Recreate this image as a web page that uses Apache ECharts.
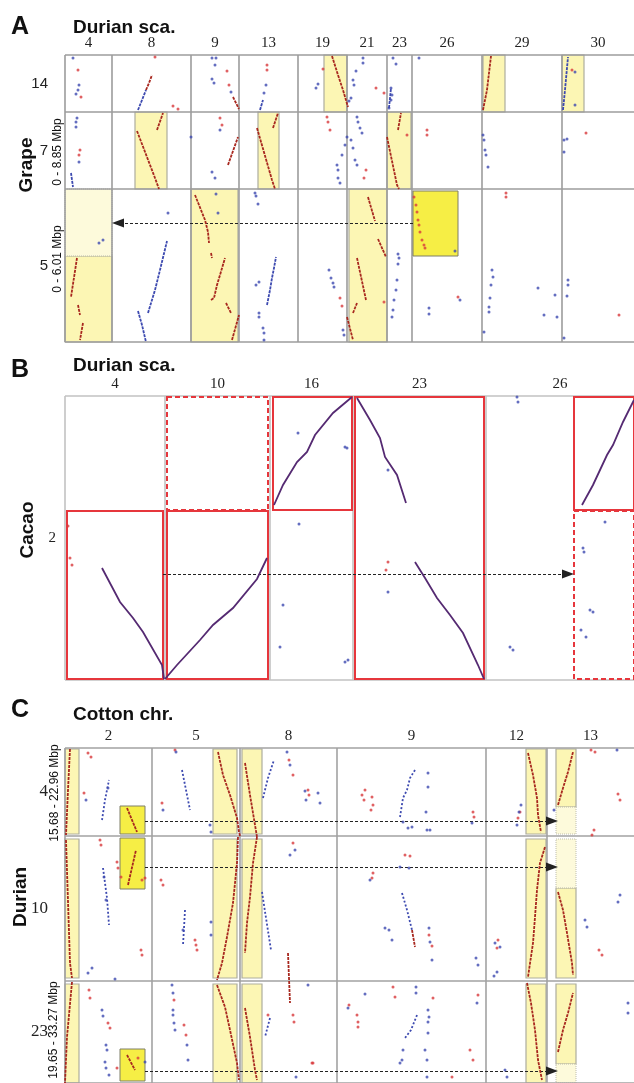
<!DOCTYPE html>
<html>
<head>
<meta charset="utf-8">
<script src="https://cdn.jsdelivr.net/npm/echarts@6/dist/echarts.min.js"></script>
<style>
html, body { margin: 0; padding: 0; background: #fff; }
#chart { width: 634px; height: 1083px; }
</style>
</head>
<body>
<div id="chart"></div>
<script>
// ---- A: durian scaffolds x grape chromosomes ----
const aCols = ['4', '8', '9', '13', '19', '21', '23', '26', '29', '30'];
const aColSize = [47, 79, 48, 59, 49, 40, 25, 70, 80, 72];
const aRows = ['14', '7', '5'];
const aRowSize = [57, 77, 153];
// boxes: [x1, y1, x2, y2]
const aPale = [[70, 57, 102, 134], [193, 57, 214, 134], [259, 0, 282, 57], [322, 57, 346, 134], [418, 0, 440, 57],
  [497, 0, 519, 57], [0, 201, 47, 287], [126, 134, 173, 287], [284, 134, 322, 287]];
const aLight = [[0, 134, 47, 201]];
const aBright = [[348, 136, 393, 201]];
const aArrows = [[348, 168, 53, 168]];
const aRedStreaks = [
  [[81, 35], [84, 28], [87, 20]], [[168, 42], [171, 48], [174, 54]], [[267, 1], [273, 20], [278, 35], [283, 52]],
  [[418, 55], [422, 35], [426, 1]], [[72, 76], [90, 123], [94, 134]], [[92, 75], [98, 58]], [[163, 110], [173, 82]],
  [[192, 73], [207, 125], [210, 134]], [[208, 73], [213, 58]], [[322, 82], [332, 130], [334, 134]], [[333, 75], [336, 58]],
  [[12, 203], [6, 242]], [[13, 250], [15, 260]], [[18, 268], [15, 285]], [[130, 140], [140, 165], [143, 177], [144, 188]],
  [[146, 198], [147, 203]], [[146, 245], [149, 243], [152, 230], [155, 220], [160, 203]], [[161, 248], [166, 258]],
  [[167, 285], [174, 260]], [[282, 262], [288, 285]], [[303, 142], [310, 166]], [[313, 184], [321, 202]],
  [[292, 203], [301, 245]], [[288, 258], [292, 248]]
];
const aBlueStreaks = [
  [[73, 55], [77, 45], [81, 35]], [[195, 55], [198, 45]], [[498, 55], [500, 35], [503, 2]], [[6, 118], [8, 132]],
  [[73, 256], [77, 270], [81, 287]], [[83, 258], [90, 235], [95, 215], [102, 186]],
  [[202, 250], [205, 235], [207, 223], [209, 213], [211, 202]], [[324, 53], [326, 33]]
];
const aRed = [[13, 15], [16, 42], [108, 51], [113, 54], [90, 2], [162, 16], [164, 30], [202, 10], [202, 15], [258, 14],
  [311, 33], [319, 38], [507, 15], [15, 95], [14, 100], [155, 63], [157, 70], [262, 62], [263, 67], [265, 75], [301, 115],
  [299, 123], [362, 75], [362, 80], [342, 80], [521, 78], [275, 243], [277, 251], [441, 138], [441, 142], [554, 260],
  [319, 247], [393, 242], [349, 142], [351, 150], [352, 157], [353, 165], [354, 170], [355, 177], [357, 185], [359, 190], [360, 193]];
const aBlue = [[8, 3], [14, 30], [13, 35], [11, 39], [147, 3], [151, 3], [150, 10], [147, 24], [149, 28], [166, 37], [201, 30],
  [199, 38], [251, 33], [253, 29], [298, 3], [298, 8], [291, 16], [288, 25], [289, 30], [286, 43], [284, 46], [328, 3], [331, 9],
  [326, 33], [327, 40], [326, 45], [324, 53], [354, 3], [510, 17], [510, 50], [12, 63], [11, 67], [11, 72], [14, 107], [147, 117],
  [150, 123], [126, 82], [155, 75], [282, 82], [280, 90], [277, 100], [273, 115], [272, 110], [273, 123], [275, 128], [292, 62],
  [293, 67], [295, 73], [297, 78], [286, 85], [288, 93], [290, 105], [292, 110], [418, 80], [419, 85], [420, 95], [421, 100],
  [423, 112], [499, 85], [499, 97], [502, 84], [34, 188], [38, 185], [103, 158], [153, 158], [151, 139], [190, 138], [191, 141],
  [193, 149], [191, 230], [194, 227], [194, 258], [194, 262], [198, 273], [199, 278], [199, 285], [264, 215], [266, 223],
  [268, 228], [269, 232], [278, 275], [279, 280], [333, 199], [334, 203], [333, 209], [332, 225], [331, 235], [329, 245],
  [328, 255], [327, 262], [364, 253], [364, 259], [395, 245], [390, 196], [427, 215], [428, 222], [426, 230], [425, 243],
  [424, 252], [424, 257], [419, 277], [473, 233], [490, 240], [492, 262], [479, 260], [503, 225], [503, 230], [502, 241], [499, 283]];

// ---- B: durian scaffolds x cacao chromosome 2 ----
const bCols = ['4', '10', '16', '23', '26'];
const bColSize = [100, 105, 83, 133, 148];
const bRows = ['2'];
const bRowSize = [284];
const bSolid = [[2, 115, 98, 283], [102, 115, 203, 283], [208, 1, 287, 114], [290, 1, 419, 283], [509, 1, 571, 114]];
const bDashed = [[102, 1, 203, 114], [509, 115, 571, 283]];
const bArrows = [[98, 178, 503, 178]];
const bStreaks = [
  [[37, 172], [55, 206], [68, 222], [78, 236], [97, 269], [99, 283]],
  [[100, 283], [112, 269], [135, 244], [148, 229], [168, 212], [192, 183], [202, 162]],
  [[209, 109], [218, 89], [232, 66], [242, 56], [250, 39], [268, 17], [287, 1]],
  [[292, 2], [305, 24], [315, 42], [320, 61], [332, 79], [341, 107]],
  [[350, 166], [360, 182], [372, 202], [385, 219], [398, 237], [413, 269], [419, 283]],
  [[517, 109], [528, 89], [542, 59], [548, 49], [558, 26], [569, 4]]
];
const bRed = [[3, 130], [5, 162], [7, 169], [323, 166], [321, 174]];
const bBlue = [[233, 37], [234, 128], [218, 209], [215, 251], [280, 51], [282, 52], [323, 74], [323, 196], [452, 1], [453, 6],
  [445, 251], [448, 254], [540, 126], [518, 152], [519, 156], [525, 214], [528, 216], [516, 234], [521, 241], [280, 266], [283, 264]];

// ---- C: cotton chromosomes x durian chromosomes ----
const cCols = ['2', '5', '8', '9', '12', '13'];
const cColSize = [87, 88, 97, 149, 61, 87];
const cRows = ['4', '10', '23'];
const cRowSize = [88, 145, 102];
const cPale = [[0, 1, 14, 86], [0, 91, 14, 230], [0, 236, 14, 335], [148, 1, 172, 86], [148, 91, 172, 230], [148, 236, 172, 335],
  [177, 1, 197, 86], [177, 91, 197, 230], [177, 236, 197, 335], [461, 1, 481, 86], [461, 91, 481, 230], [461, 236, 481, 335],
  [491, 1, 511, 59], [491, 140, 511, 230], [491, 236, 511, 316]];
const cLight = [[491, 59, 511, 86], [491, 91, 511, 140], [491, 316, 511, 335]];
const cBright = [[55, 58, 80, 86], [55, 90, 80, 141], [55, 301, 80, 333]];
const cArrows = [[80, 73, 487, 73], [80, 119, 487, 119], [80, 323, 487, 323]];
const cRedStreaks = [
  [[5, 1], [3, 42], [1, 87]], [[1, 92], [5, 215], [7, 230]], [[7, 234], [2, 289], [0, 335]],
  [[62, 60], [72, 84]], [[63, 137], [71, 102]], [[62, 307], [70, 322]],
  [[153, 4], [158, 27], [165, 47], [172, 70], [174, 84], [175, 88]],
  [[173, 89], [172, 115], [168, 155], [162, 189], [157, 215], [152, 232]],
  [[152, 237], [160, 259], [165, 282], [172, 315], [174, 332]],
  [[180, 15], [185, 47], [190, 77], [192, 89]], [[192, 89], [188, 115], [185, 149], [182, 175], [180, 205]],
  [[180, 260], [185, 289], [190, 322], [192, 332]],
  [[463, 5], [468, 27], [472, 50], [473, 67], [476, 84]], [[480, 99], [475, 115], [472, 142], [470, 169], [468, 195], [463, 229]],
  [[462, 235], [466, 255], [470, 282], [473, 312], [477, 332]],
  [[493, 57], [498, 40], [503, 24], [508, 4]], [[493, 144], [498, 162], [502, 185], [507, 215], [508, 227]],
  [[493, 304], [498, 282], [503, 265], [508, 245]], [[223, 205], [224, 230], [225, 255]], [[347, 182], [350, 199]]
];
const cBlueStreaks = [
  [[37, 72], [40, 52], [44, 32]], [[117, 22], [121, 42], [125, 62]], [[198, 50], [203, 30], [209, 12]],
  [[197, 144], [201, 170], [206, 202]], [[335, 69], [338, 50], [342, 42], [345, 30], [350, 22]],
  [[337, 145], [342, 162], [347, 182]], [[352, 267], [346, 282], [340, 290]], [[205, 270], [200, 289]],
  [[38, 120], [42, 150], [44, 177]], [[120, 162], [119, 180], [118, 197]]
];
const cRed = [[23, 5], [26, 9], [19, 45], [35, 92], [36, 97], [52, 114], [53, 120], [56, 129], [77, 132], [80, 130], [76, 202],
  [77, 207], [24, 242], [25, 250], [43, 275], [45, 280], [52, 320], [73, 310], [110, 2], [97, 55], [96, 132], [98, 137], [130, 192],
  [131, 197], [132, 202], [109, 252], [119, 277], [121, 287], [224, 12], [228, 27], [243, 42], [244, 47], [228, 95], [228, 267],
  [229, 274], [203, 267], [247, 315], [300, 42], [297, 47], [299, 52], [307, 49], [308, 57], [306, 62], [408, 64], [409, 69],
  [340, 107], [345, 108], [307, 130], [308, 125], [364, 187], [367, 198], [432, 200], [284, 257], [292, 267], [293, 274],
  [293, 279], [248, 315], [368, 250], [413, 247], [405, 302], [408, 312], [387, 329], [526, 2], [530, 4], [553, 46], [555, 52],
  [527, 87], [529, 82], [534, 202], [537, 207], [328, 239], [330, 249], [455, 64], [453, 70], [433, 192]];
const cBlue = [[21, 52], [43, 40], [39, 129], [41, 152], [27, 220], [23, 225], [50, 231], [37, 262], [38, 268], [41, 297], [42, 302],
  [40, 314], [41, 320], [44, 327], [80, 314], [111, 4], [98, 62], [145, 77], [146, 84], [146, 174], [146, 187], [118, 182], [107, 237],
  [108, 245], [108, 262], [108, 267], [109, 275], [110, 282], [122, 297], [123, 312], [222, 4], [225, 17], [241, 52], [230, 102],
  [225, 107], [243, 237], [231, 329], [240, 43], [253, 45], [255, 55], [338, 74], [343, 80], [347, 79], [363, 25], [363, 39],
  [361, 64], [362, 82], [365, 82], [407, 75], [344, 120], [335, 119], [305, 132], [324, 182], [327, 192], [320, 180], [364, 180],
  [365, 194], [367, 212], [411, 210], [413, 217], [432, 224], [429, 228], [430, 195], [351, 239], [351, 245], [363, 262], [364, 269],
  [363, 274], [363, 285], [360, 302], [362, 312], [335, 315], [337, 312], [338, 302], [283, 260], [300, 246], [412, 255], [440, 322],
  [442, 329], [362, 329], [563, 255], [563, 265], [456, 57], [454, 64], [452, 77], [435, 199], [489, 62], [552, 2], [555, 147],
  [553, 154], [520, 172], [522, 179]];

const SANS = '"Liberation Sans", Arial, sans-serif';
const SERIF = '"Liberation Serif", "Times New Roman", serif';
const RED = '#d83a3c', BLUE = '#3d4ab0', STREAK = '#a8281f', BSTREAK = '#552a72';

const cum = s => s.reduce((a, v) => { a.push(a[a.length - 1] + v); return a; }, [0]);
const mids = s => { const c = cum(s); return s.map((v, i) => c[i] + v / 2); };
const pick = (vals, labels) => v => { const i = vals.findIndex(m => Math.abs(m - v) < 1e-6); return i < 0 ? '' : labels[i]; };
const box = b => [{ coord: [b[0], b[1]] }, { coord: [b[2], b[3]] }];

const grids = [], xAxes = [], yAxes = [], series = [];

function areas(g, boxes, style, z) {
  series.push({
    type: 'scatter', xAxisIndex: g, yAxisIndex: g, data: [], silent: true,
    markArea: { silent: true, z: z, itemStyle: style, data: boxes.map(box) }
  });
}

function panel(p) {
  const g = grids.length;
  grids.push({ left: 65, top: p.top, width: 569, height: p.height });
  const xm = mids(p.colSize), ym = mids(p.rowSize);
  const xe = cum(p.colSize), ye = cum(p.rowSize);
  xAxes.push({
    gridIndex: g, type: 'value', min: 0, max: xe[xe.length - 1], position: 'top',
    axisLine: { show: false }, axisTick: { show: false }, splitLine: { show: false },
    axisLabel: { customValues: xm, formatter: pick(xm, p.cols), fontFamily: SERIF, fontSize: 15, color: '#222', margin: 4 }
  });
  yAxes.push({
    gridIndex: g, type: 'value', inverse: true, min: 0, max: ye[ye.length - 1],
    axisLine: { show: false }, axisTick: { show: false }, splitLine: { show: false },
    axisLabel: { customValues: ym, formatter: pick(ym, p.rows), fontFamily: p.rowFont, fontSize: p.rowFontSize, color: '#222', margin: p.rowMargin }
  });

  (p.areaSets || []).forEach(a => areas(g, a[0], a[1], a[2]));

  // cell borders
  const lines = xe.slice(0, -1).map(v => ({ xAxis: v })).concat(ye.map(v => ({ yAxis: v })));
  series.push({
    type: 'scatter', xAxisIndex: g, yAxisIndex: g, data: [], silent: true,
    markLine: { silent: true, z: 2, symbol: 'none', label: { show: false },
      lineStyle: { color: p.frame, width: 1.6, type: 'solid' }, data: lines }
  });

  // dashed arrows between regions
  series.push({
    type: 'scatter', xAxisIndex: g, yAxisIndex: g, data: [], silent: true,
    markLine: { silent: true, z: 4, symbol: ['none', 'triangle'], symbolSize: [9, 12], label: { show: false },
      lineStyle: { color: '#222', width: 1, type: [3, 2] }, data: p.arrows.map(box) }
  });

  p.streaks.forEach(s => series.push({
    type: 'lines', coordinateSystem: 'cartesian2d', xAxisIndex: g, yAxisIndex: g, polyline: true, silent: true, z: 5,
    lineStyle: { color: s[1], width: 1.8, opacity: 1, type: s[2] || [3, 1] },
    data: s[0].map(c => ({ coords: c }))
  }));
  p.dots.forEach(d => series.push({
    type: 'scatter', xAxisIndex: g, yAxisIndex: g, silent: true, z: 6, symbolSize: 3,
    itemStyle: { color: d[1] }, data: d[0]
  }));
}

const paleStyle = { color: '#fcf6b4', borderColor: '#adad9e', borderWidth: 1.2 };
const lightStyle = { color: '#fdfadb', borderColor: '#bdbdae', borderWidth: 1, borderType: 'dotted' };
const brightStyle = { color: '#f6ee45', borderColor: '#7e7e68', borderWidth: 1 };

panel({
  top: 55, height: 287, cols: aCols, colSize: aColSize, rows: aRows, rowSize: aRowSize,
  rowFont: SANS, rowFontSize: 15, rowMargin: 17, frame: '#9c9c9c',
  areaSets: [[aPale, paleStyle, 1], [aLight, lightStyle, 1], [aBright, brightStyle, 3]],
  arrows: aArrows,
  streaks: [[aRedStreaks, STREAK], [aBlueStreaks, BLUE]],
  dots: [[aRed, RED], [aBlue, BLUE]]
});
panel({
  top: 396, height: 284, cols: bCols, colSize: bColSize, rows: bRows, rowSize: bRowSize,
  rowFont: SERIF, rowFontSize: 15, rowMargin: 9, frame: '#c2c2c2',
  areaSets: [[bSolid, { color: 'rgba(0,0,0,0)', borderColor: '#e6363c', borderWidth: 2 }, 3],
    [bDashed, { color: 'rgba(0,0,0,0)', borderColor: '#e6363c', borderWidth: 2, borderType: [5, 3] }, 3]],
  arrows: bArrows,
  streaks: [[bStreaks, BSTREAK, 'solid']],
  dots: [[bRed, RED], [bBlue, BLUE]]
});
panel({
  top: 748, height: 335, cols: cCols, colSize: cColSize, rows: cRows, rowSize: cRowSize,
  rowFont: SERIF, rowFontSize: 17, rowMargin: 17, frame: '#a2a2a2',
  areaSets: [[cPale, paleStyle, 1], [cLight, lightStyle, 1], [cBright, brightStyle, 3]],
  arrows: cArrows,
  streaks: [[cRedStreaks, STREAK], [cBlueStreaks, BLUE, [2, 2]]],
  dots: [[cRed, RED], [cBlue, BLUE]]
});

const txt = (text, x, y, font, rot) => ({
  type: 'text', x: x, y: y, rotation: rot ? Math.PI / 2 : 0, silent: true, z: 10,
  style: { text: text, font: font, fill: '#111', align: rot ? 'center' : 'left', verticalAlign: 'middle' }
});
const bigFont = 'bold 25px ' + SANS, titleFont = 'bold 19px ' + SANS, smallFont = '12px ' + SANS;

const chart = echarts.init(document.getElementById('chart'), null, { renderer: 'canvas' });
chart.setOption({
  animation: false,
  backgroundColor: '#fff',
  grid: grids, xAxis: xAxes, yAxis: yAxes, series: series,
  graphic: [
    txt('A', 11, 27, bigFont), txt('Durian sca.', 73, 28, titleFont),
    txt('Grape', 27, 165, titleFont, true), txt('0 - 8.85 Mbp', 58, 152, smallFont, true),
    txt('0 - 6.01 Mbp', 58, 259, smallFont, true),
    txt('B', 11, 370, bigFont), txt('Durian sca.', 73, 366, titleFont),
    txt('Cacao', 28, 530, titleFont, true),
    txt('C', 11, 710, bigFont), txt('Cotton chr.', 73, 715, titleFont),
    txt('Durian', 21, 897, titleFont, true), txt('15.68 - 22.96 Mbp', 55, 793, smallFont, true),
    txt('19.65 - 33.27 Mbp', 54, 1030, smallFont, true)
  ]
});
</script>
</body>
</html>
